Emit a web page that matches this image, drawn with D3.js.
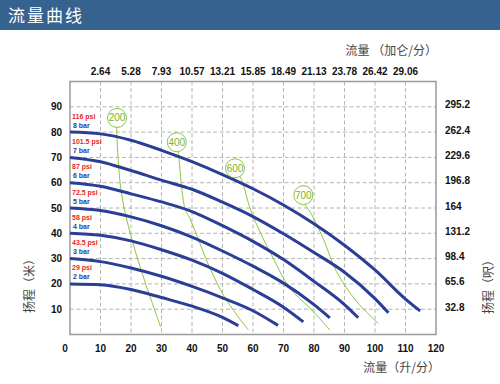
<!DOCTYPE html>
<html>
<head>
<meta charset="utf-8">
<script src="https://cdn.jsdelivr.net/npm/d3@7"></script>
<style>
body { margin: 0; background: #fff; }
svg { display: block; }
</style>
</head>
<body>
<svg id="chart" width="500" height="384"></svg>
<script>
// flow in L/min, head in m
var flowTicks = [0, 10, 20, 30, 40, 50, 60, 70, 80, 90, 100, 110, 120];
var headTicks = [10, 20, 30, 40, 50, 60, 70, 80, 90];
var gpmTicks = [10, 20, 30, 40, 50, 60, 70, 80, 90, 100, 110];
var gpmLabels = ["2.64", "5.28", "7.93", "10.57", "13.21", "15.85", "18.49", "21.13", "23.78", "26.42", "29.06"];
var ftLabels = ["32.8", "65.6", "98.4", "131.2", "164", "196.8", "229.6", "262.4", "295.2"];

var barLabels = ["8 bar", "7 bar", "6 bar", "5 bar", "4 bar", "3 bar", "2 bar"];
var psiLabels = ["116 psi", "101.5 psi", "87 psi", "72.5 psi", "58 psi", "43.5 psi", "29 psi"];

var curve8bar = [[0, 80], [10, 79.3], [20, 76.8], [30, 72.8], [40, 68.3], [50, 63.2], [60, 57.6], [70, 51.2], [80, 43.8], [90, 35.3], [100, 25.5], [110, 14], [114.8, 9.3]];
var curve7bar = [[0, 70], [10, 68.3], [20, 64.8], [30, 61], [40, 57.4], [50, 52.3], [60, 46.6], [70, 39.8], [80, 32.4], [90, 24.6], [100, 14.2], [104.4, 8.6]];
var curve6bar = [[0, 60], [10, 58.6], [20, 55.6], [30, 52.4], [40, 48.6], [50, 43], [60, 36.8], [70, 29.6], [80, 21], [90, 11.8], [94.5, 6.6]];
var curve5bar = [[0, 50], [10, 49], [20, 46.5], [30, 43], [40, 38.5], [50, 33], [60, 27], [70, 20.3], [80, 11.8], [85.2, 6.6]];
var curve4bar = [[0, 40], [10, 39.2], [20, 37], [30, 33.5], [40, 29.4], [50, 24.2], [60, 17.8], [70, 10.8], [76.5, 5]];
var curve3bar = [[0, 30], [10, 28.8], [20, 26.3], [30, 23], [40, 19], [50, 14.5], [60, 9.4], [68.2, 3.6]];
var curve2bar = [[0, 20], [10, 19.7], [20, 17.8], [30, 14.6], [40, 11.2], [50, 6.8], [55.2, 3.5]];
var pumpCurves = [curve8bar, curve7bar, curve6bar, curve5bar, curve4bar, curve3bar, curve2bar];

// air consumption lines
var airLabels = ["200", "400", "600", "700"];
var air200 = [[15.4, 85.6], [15.3, 81.3], [16.4, 60.3], [17.8, 49.7], [20.2, 38], [23.5, 24.8], [26.8, 13], [29.7, 3.1]];
var air400 = [[35, 76], [35.5, 72.1], [37.7, 49.7], [39.3, 45.9], [45.9, 26.2], [50.3, 15.6], [54.7, 7.7], [58.5, 1.8]];
var air600 = [[54.1, 65.7], [56.3, 61], [59, 50], [62.5, 40], [66.1, 31.4], [72.1, 18.3], [78.7, 10.4], [85.2, 1.8]];
var air700 = [[76.5, 55.1], [77.2, 51], [78.7, 48.5], [83, 38], [87.4, 24.8], [94, 13], [101.1, 4.4]];
var airLines = [air200, air400, air600, air700];

var blue = "#2b3e97";
var green = "#8cc63f";
var cjk = "'Noto Sans CJK SC', sans-serif";
var latin = "Arial, 'Liberation Sans', sans-serif";

var svg = d3.select("#chart");

var x = d3.scaleLinear().domain([0, 120]).range([70, 436]);
var y = d3.scaleLinear().domain([0, 100]).range([334.5, 81.5]);

// header bar
svg.append("rect").attr("x", 0).attr("y", 0).attr("width", 500).attr("height", 30).attr("fill", "#36628f");
svg.append("text").attr("x", 8).attr("y", 22)
    .attr("font-family", cjk).attr("font-size", 17).attr("letter-spacing", 2)
    .attr("fill", "#fff").text("流量曲线");

// grid
var grid = svg.append("g").attr("stroke", "#b4b4b4").attr("stroke-dasharray", "4,2.5").attr("stroke-width", 1);
grid.selectAll("line.v").data(gpmTicks).enter().append("line")
    .attr("x1", function(d) { return x(d); }).attr("x2", function(d) { return x(d); })
    .attr("y1", y(100)).attr("y2", y(0));
grid.selectAll("line.h").data(headTicks).enter().append("line")
    .attr("x1", x(0)).attr("x2", x(120))
    .attr("y1", function(d) { return y(d); }).attr("y2", function(d) { return y(d); });

// frame
svg.append("rect").attr("x", x(0)).attr("y", y(100))
    .attr("width", x(120) - x(0)).attr("height", y(0) - y(100))
    .attr("fill", "none").attr("stroke", "#9a9a9a").attr("stroke-width", 1.5);

// tick labels
var tickFont = function(sel) {
    sel.attr("font-family", latin).attr("font-size", 10).attr("font-weight", "bold").attr("fill", "#111");
};
svg.append("g").call(tickFont).selectAll("text").data(flowTicks).enter().append("text")
    .attr("x", function(d) { return d == 0 ? x(d) - 5 : x(d); }).attr("y", 352)
    .attr("text-anchor", "middle").text(function(d) { return d; });
svg.append("g").call(tickFont).selectAll("text").data(headTicks).enter().append("text")
    .attr("x", 62).attr("y", function(d) { return y(d) + 3.5; })
    .attr("text-anchor", "end").text(function(d) { return d; });
svg.append("g").call(tickFont).selectAll("text").data(gpmTicks).enter().append("text")
    .attr("x", function(d) { return x(d); }).attr("y", 74.5)
    .attr("text-anchor", "middle").text(function(d, i) { return gpmLabels[i]; });
svg.append("g").call(tickFont).selectAll("text").data(headTicks).enter().append("text")
    .attr("x", 445).attr("y", function(d) { return y(d) + 1.5; })
    .text(function(d, i) { return ftLabels[i]; });

// axis titles
var titleFont = function(sel) {
    sel.attr("font-family", cjk).attr("font-size", 12).attr("fill", "#444");
};
svg.append("text").call(titleFont).attr("x", 440).attr("y", 372).attr("text-anchor", "end").text("流量（升/分）");
svg.append("text").call(titleFont).attr("x", 437).attr("y", 55).attr("text-anchor", "end").text("流量 （加仑/分）");
svg.append("text").call(titleFont).attr("transform", "translate(34,283) rotate(-90)")
    .attr("text-anchor", "middle").text("扬程（米）");
svg.append("text").call(titleFont).attr("transform", "translate(493,284) rotate(-90)")
    .attr("text-anchor", "middle").text("扬程（呎）");

// air lines
var airLine = d3.line().x(function(d) { return x(d[0]); }).y(function(d) { return y(d[1]); })
    .curve(d3.curveCatmullRom);
svg.append("g").selectAll("path").data(airLines).enter().append("path")
    .attr("d", airLine).attr("fill", "none").attr("stroke", green).attr("stroke-width", 1);

// pump curves
var pumpLine = d3.line().x(function(d) { return x(d[0]); }).y(function(d) { return y(d[1]); })
    .curve(d3.curveMonotoneX);
svg.append("g").selectAll("path").data(pumpCurves).enter().append("path")
    .attr("d", pumpLine).attr("fill", "none").attr("stroke", blue).attr("stroke-width", 3);

// air labels
var bubbles = svg.append("g").selectAll("g").data(airLines).enter().append("g")
    .attr("transform", function(d) { return "translate(" + x(d[0][0]) + "," + y(d[0][1]) + ")"; });
bubbles.append("circle").attr("r", 9.5).attr("fill", "#fff").attr("stroke", green).attr("stroke-width", 1);
bubbles.append("text").attr("y", 3.5).attr("text-anchor", "middle")
    .attr("font-family", latin).attr("font-size", 10).attr("fill", "#7bb52d")
    .text(function(d, i) { return airLabels[i]; });

// pressure labels
var pLabels = svg.append("g").attr("font-family", latin).attr("font-size", 7).attr("font-weight", "bold");
pLabels.selectAll("text.psi").data(pumpCurves).enter().append("text")
    .attr("x", 72).attr("y", function(d) { return y(d[0][1]) - 13.5; })
    .attr("fill", "#e8262a").text(function(d, i) { return psiLabels[i]; });
pLabels.selectAll("text.bar").data(pumpCurves).enter().append("text")
    .attr("x", 73).attr("y", function(d) { return y(d[0][1]) - 4.5; })
    .attr("fill", blue).text(function(d, i) { return barLabels[i]; });
</script>
</body>
</html>
